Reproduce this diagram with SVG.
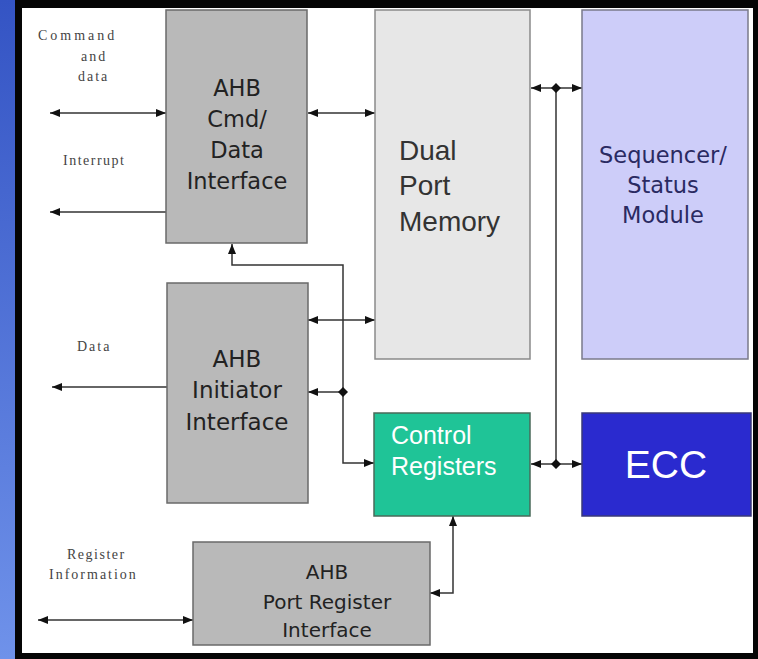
<svg xmlns="http://www.w3.org/2000/svg" width="758" height="659" viewBox="0 0 758 659">
<defs>
<linearGradient id="bg" x1="0" y1="0" x2="0" y2="1">
<stop offset="0" stop-color="#3454c4"/>
<stop offset="1" stop-color="#6f92ea"/>
</linearGradient>
<marker id="ah" viewBox="0 0 10 10" refX="10" refY="5" markerWidth="10" markerHeight="10" markerUnits="userSpaceOnUse" orient="auto-start-reverse">
<path d="M0,1 L10,5 L0,9 Z" fill="#111"/>
</marker>
<marker id="dm" viewBox="0 0 10 10" refX="5" refY="5" markerWidth="10" markerHeight="10" markerUnits="userSpaceOnUse" orient="0">
<path d="M5,0 L10,5 L5,10 L0,5 Z" fill="#111"/>
</marker>
<style>
.gbox{fill:#b9b9b9;stroke:#6a6a6a;stroke-width:1.5}
.t{font-family:"DejaVu Sans",Verdana,sans-serif;fill:#222;text-anchor:middle}
.a{font-family:"Liberation Sans",Arial,sans-serif}
.lbl{font-family:"Liberation Serif","Times New Roman",serif;font-size:14px;letter-spacing:2px;fill:#444}
.c{fill:none;stroke:#333;stroke-width:1.5}
</style>
</defs>
<rect x="0" y="0" width="758" height="659" fill="#050505"/>
<rect x="0" y="0" width="15" height="659" fill="url(#bg)"/>
<rect x="22" y="8" width="731" height="645" fill="#ffffff"/>

<g id="connectors">
<line class="c" x1="50" y1="113" x2="166" y2="113" marker-start="url(#ah)" marker-end="url(#ah)"/>
<line class="c" x1="308" y1="113" x2="375" y2="113" marker-start="url(#ah)" marker-end="url(#ah)"/>
<line class="c" x1="166" y1="212" x2="50" y2="212" marker-end="url(#ah)"/>
<polyline class="c" points="374,463 343,463 343,265 232,265 232,244" marker-start="url(#ah)" marker-end="url(#ah)"/>
<line class="c" x1="308" y1="320" x2="375" y2="320" marker-start="url(#ah)" marker-end="url(#ah)"/>
<line class="c" x1="343" y1="392" x2="308" y2="392" marker-start="url(#dm)" marker-end="url(#ah)"/>
<line class="c" x1="167" y1="387" x2="52" y2="387" marker-end="url(#ah)"/>
<line class="c" x1="38" y1="620" x2="193" y2="620" marker-start="url(#ah)" marker-end="url(#ah)"/>
<polyline class="c" points="430,593 453,593 453,516" marker-start="url(#ah)" marker-end="url(#ah)"/>
<line class="c" x1="556" y1="88" x2="556" y2="464"/>
<line class="c" x1="531" y1="88" x2="582" y2="88" marker-start="url(#ah)" marker-end="url(#ah)"/>
<line class="c" x1="531" y1="464" x2="582" y2="464" marker-start="url(#ah)" marker-end="url(#ah)"/>
<path d="M556,83 L561,88 L556,93 L551,88 Z M556,459 L561,464 L556,469 L551,464 Z" fill="#111"/>
</g>

<g id="labels">
<text class="lbl" x="38" y="40" style="letter-spacing:3px">Command</text>
<text class="lbl" x="81" y="61">and</text>
<text class="lbl" x="78" y="81">data</text>
<text class="lbl" x="63" y="165" style="letter-spacing:1.5px">Interrupt</text>
<text class="lbl" x="77" y="351">Data</text>
<text class="lbl" x="67" y="559" style="letter-spacing:1.5px">Register</text>
<text class="lbl" x="49" y="579">Information</text>
</g>

<g id="cmd-data">
<rect class="gbox" x="166" y="10" width="141" height="233"/>
<text class="t" font-size="22.5"><tspan x="237" y="96">AHB</tspan><tspan x="237" y="127">Cmd/</tspan><tspan x="237" y="158">Data</tspan><tspan x="237" y="189">Interface</tspan></text>
</g>

<g id="dual-port">
<rect x="375" y="10" width="155" height="349" fill="#e7e7e7" stroke="#8a8a8a" stroke-width="1.5"/>
<text class="a" font-size="28" fill="#333"><tspan x="399" y="160">Dual</tspan><tspan x="399" y="195">Port</tspan><tspan x="399" y="231">Memory</tspan></text>
</g>

<g id="sequencer">
<rect x="582" y="10" width="166" height="349" fill="#cdcdf9" stroke="#7a7a8a" stroke-width="1.5"/>
<text class="t" font-size="22.5" style="fill:#2a2a62"><tspan x="663" y="163">Sequencer/</tspan><tspan x="663" y="193">Status</tspan><tspan x="663" y="223">Module</tspan></text>
</g>

<g id="initiator">
<rect class="gbox" x="167" y="283" width="141" height="220"/>
<text class="t" font-size="23"><tspan x="237" y="367">AHB</tspan><tspan x="237" y="398">Initiator</tspan><tspan x="237" y="430">Interface</tspan></text>
</g>

<g id="control-registers">
<rect x="374" y="413" width="156" height="103" fill="#1fc497" stroke="#4a6a5a" stroke-width="1.5"/>
<text class="a" font-size="25" fill="#ffffff"><tspan x="391" y="444">Control</tspan><tspan x="391" y="475">Registers</tspan></text>
</g>

<g id="ecc">
<rect x="582" y="413" width="169" height="103" fill="#2a2acf" stroke="#3a3a7a" stroke-width="1.5"/>
<text class="a" font-size="39" fill="#ffffff" text-anchor="middle" x="666" y="478">ECC</text>
</g>

<g id="port-register">
<rect class="gbox" x="193" y="542" width="237" height="103"/>
<text class="t" font-size="20"><tspan x="327" y="579">AHB</tspan><tspan x="327" y="609">Port Register</tspan><tspan x="327" y="637">Interface</tspan></text>
</g>
</svg>
